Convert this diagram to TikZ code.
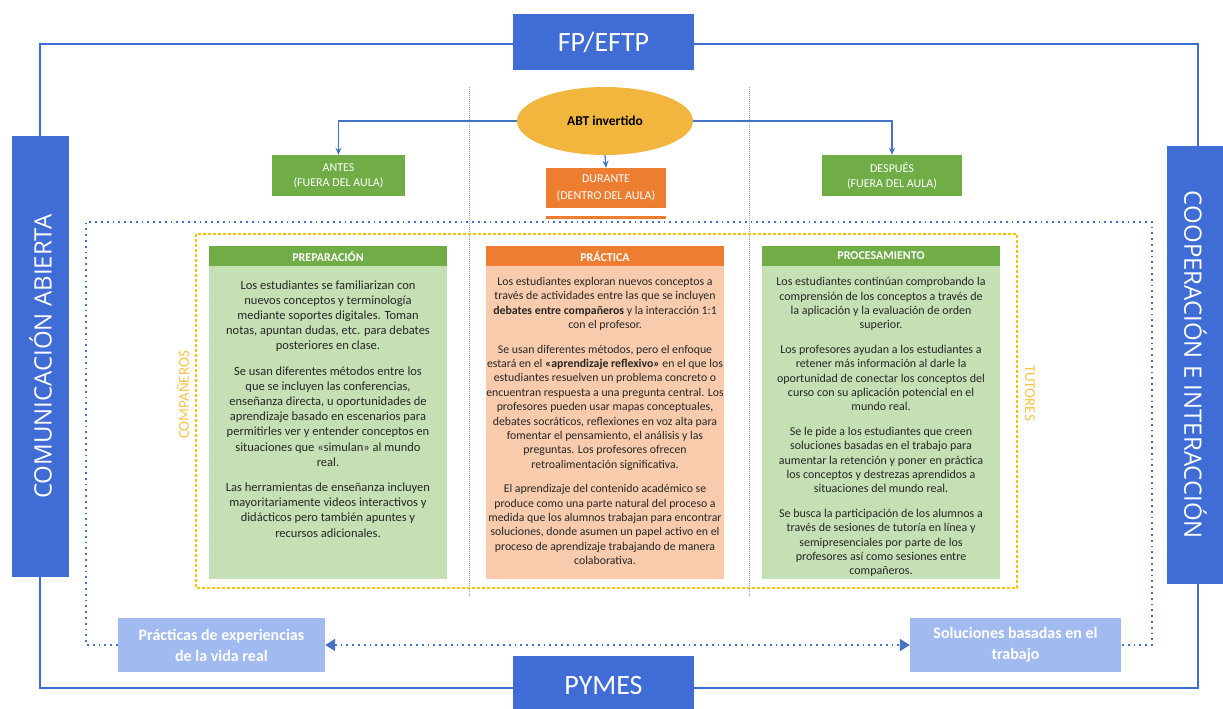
\documentclass[tikz,border=0pt]{standalone}
\usepackage{fontspec}
\setmainfont{Carlito}
\newfontfamily\sidefont{Open Sans}
\usepackage{tikz}
\usetikzlibrary{positioning, arrows.meta, shapes.geometric}

\definecolor{mainblue}{RGB}{64,108,214}
\definecolor{linkblue}{RGB}{68,114,196}
\definecolor{paleblue}{RGB}{161,186,240}
\definecolor{leafgreen}{RGB}{112,173,71}
\definecolor{palegreen}{RGB}{197,224,180}
\definecolor{rust}{RGB}{237,125,49}
\definecolor{peach}{RGB}{248,203,173}
\definecolor{gold}{RGB}{242,182,62}
\definecolor{amber}{RGB}{255,192,0}
\definecolor{sand}{RGB}{247,196,70}

\begin{document}
\begin{tikzpicture}[x=1pt, y=-1pt,
    bluebox/.style={rectangle, fill=mainblue, text=white, inner sep=0pt},
    phase/.style={rectangle, text=white, align=center, inner sep=0pt, font=\fontsize{12}{15}\selectfont},
    head/.style={rectangle, text=white, inner sep=0pt, minimum width=238, minimum height=20, font=\fontsize{12}{12}\selectfont\bfseries},
    body/.style={rectangle, inner sep=0pt, minimum width=238, minimum height=313},
    para/.style={anchor=north, align=center, inner sep=0pt, text=black!85, font=\fontsize{11.8}{14.4}\selectfont},
    link/.style={draw=linkblue, line width=1.2pt, -{Stealth[length=7pt, width=6pt]}},
    pale/.style={rectangle, fill=paleblue, text=white, align=center, inner sep=0pt, minimum height=54, font=\fontsize{16}{21}\selectfont\bfseries},
    side/.style={text=sand, font=\fontsize{15}{15}\selectfont}]

    \useasboundingbox (0,0) rectangle (1223,709);

    \draw[mainblue, line width=2.5pt] (40,44) rectangle (1198,688);

    \node[bluebox, minimum width=181, minimum height=56, font=\fontsize{28}{28}\selectfont] (fp) at (603.5,42) {FP/EFTP};
    \node[bluebox, minimum width=181, minimum height=60, font=\fontsize{28}{28}\selectfont] (pymes) at (603.5,686) {PYMES};
    \node[bluebox, rotate=90, minimum width=441, minimum height=57, font=\sidefont\fontsize{24}{24}\selectfont] (abierta) at (40.5,356.5) {COMUNICACIÓN ABIERTA};
    \node[bluebox, rotate=-90, minimum width=438, minimum height=57, font=\sidefont\fontsize{24}{24}\selectfont] (interaccion) at (1195.5,365) {COOPERACIÓN E INTERACCIÓN};

    \draw[linkblue!60, line width=0.6pt, dash pattern=on 1pt off 1pt] (469,87) -- (469,596);
    \draw[linkblue!60, line width=0.6pt, dash pattern=on 1pt off 1pt] (749,87) -- (749,596);

    \node[ellipse, fill=gold, minimum width=176, minimum height=68, inner sep=0pt, font=\fontsize{13.5}{14}\selectfont\bfseries] (abt) at (605,121) {ABT invertido};

    \node[phase, fill=leafgreen, minimum width=133, minimum height=41] (antes) at (338.5,175.5) {ANTES\\(FUERA DEL AULA)};
    \node[phase, fill=rust, minimum width=120, minimum height=40, font=\fontsize{12}{17}\selectfont] (durante) at (606,188) {DURANTE\\(DENTRO DEL AULA)};
    \node[phase, fill=leafgreen, minimum width=140, minimum height=41] (despues) at (892,175.5) {DESPUÉS\\(FUERA DEL AULA)};

    \draw[link] (abt.west) -| (antes.north);
    \draw[link] (abt.east) -| (despues.north);
    \draw[link] (abt.south) -- (durante.north);
    \draw[rust, line width=3pt] ([yshift=-9pt]durante.south west) -- ([yshift=-9pt]durante.south east);

    \coordinate (tl) at (86,222);
    \coordinate (tr) at (1152,222);
    \coordinate (bl) at (86,645);
    \coordinate (br) at (1152,645);

    \draw[amber, line width=1.6pt, dash pattern=on 3pt off 2pt] (196,234) rectangle (1017,588);

    \node[head, fill=leafgreen] (prep) at (328,256) {PREPARACIÓN};
    \node[body, fill=palegreen, below=0pt of prep] (prepbody) {};
    \node[para, font=\fontsize{12.5}{15.2}\selectfont] (preptext) at ([yshift=-14pt]prepbody.north) {Los estudiantes se familiarizan con\\
        nuevos conceptos y terminología\\
        mediante soportes digitales. Toman\\
        notas, apuntan dudas, etc. para debates\\
        posteriores en clase.\\[10pt]
        Se usan diferentes métodos entre los\\
        que se incluyen las conferencias,\\
        enseñanza directa, u oportunidades de\\
        aprendizaje basado en escenarios para\\
        permitirles ver y entender conceptos en\\
        situaciones que «simulan» al mundo\\
        real.\\[10pt]
        Las herramientas de enseñanza incluyen\\
        mayoritariamente videos interactivos y\\
        didácticos pero también apuntes y\\
        recursos adicionales.};

    \node[head, fill=rust] (prac) at (605,256) {PRÁCTICA};
    \node[body, fill=peach, below=0pt of prac] (pracbody) {};
    \node[para] (practext) at ([yshift=-11pt]pracbody.north) {Los estudiantes exploran nuevos conceptos a\\
        través de actividades entre las que se incluyen\\
        \textbf{debates entre compañeros} y la interacción 1:1\\
        con el profesor.\\[10pt]
        Se usan diferentes métodos, pero el enfoque\\
        estará en el \textbf{«aprendizaje reflexivo»} en el que los\\
        estudiantes resuelven un problema concreto o\\
        encuentran respuesta a una pregunta central. Los\\
        profesores pueden usar mapas conceptuales,\\
        debates socráticos, reflexiones en voz alta para\\
        fomentar el pensamiento, el análisis y las\\
        preguntas. Los profesores ofrecen\\
        retroalimentación significativa.\\[10pt]
        El aprendizaje del contenido académico se\\
        produce como una parte natural del proceso a\\
        medida que los alumnos trabajan para encontrar\\
        soluciones, donde asumen un papel activo en el\\
        proceso de aprendizaje trabajando de manera\\
        colaborativa.};

    \node[head, fill=leafgreen] (proc) at (881,256) {PROCESAMIENTO};
    \node[body, fill=palegreen, below=0pt of proc] (procbody) {};
    \node[para, font=\fontsize{12}{14.4}\selectfont] (proctext) at ([yshift=-11pt]procbody.north) {Los estudiantes continúan comprobando la\\
        comprensión de los conceptos a través de\\
        la aplicación y la evaluación de orden\\
        superior.\\[10pt]
        Los profesores ayudan a los estudiantes a\\
        retener más información al darle la\\
        oportunidad de conectar los conceptos del\\
        curso con su aplicación potencial en el\\
        mundo real.\\[10pt]
        Se le pide a los estudiantes que creen\\
        soluciones basadas en el trabajo para\\
        aumentar la retención y poner en práctica\\
        los conceptos y destrezas aprendidos a\\
        situaciones del mundo real.\\[10pt]
        Se busca la participación de los alumnos a\\
        través de sesiones de tutoría en línea y\\
        semipresenciales por parte de los\\
        profesores así como sesiones entre\\
        compañeros.};

    \node[side, rotate=90] (companeros) at (183,395) {COMPAÑEROS};
    \node[side, rotate=-90] (tutores) at (1030,393) {TUTORES};

    \node[pale, minimum width=207] (vida) at (221.5,645) {Prácticas de experiencias\\de la vida real};
    \node[pale, minimum width=211] (trabajo) at (1015.5,645) {Soluciones basadas en el\\trabajo};

    \draw[linkblue, line width=1.8pt, dash pattern=on 1.8pt off 4pt] (vida.west) -- (bl) -- (tl) -- (tr) -- (br) -- (trabajo.east);
    \draw[linkblue, line width=1.8pt, dash pattern=on 1.8pt off 4pt, {Triangle[length=10pt, width=12pt]}-{Triangle[length=10pt, width=12pt]}] (vida.east) -- (trabajo.west);
\end{tikzpicture}
\end{document}
